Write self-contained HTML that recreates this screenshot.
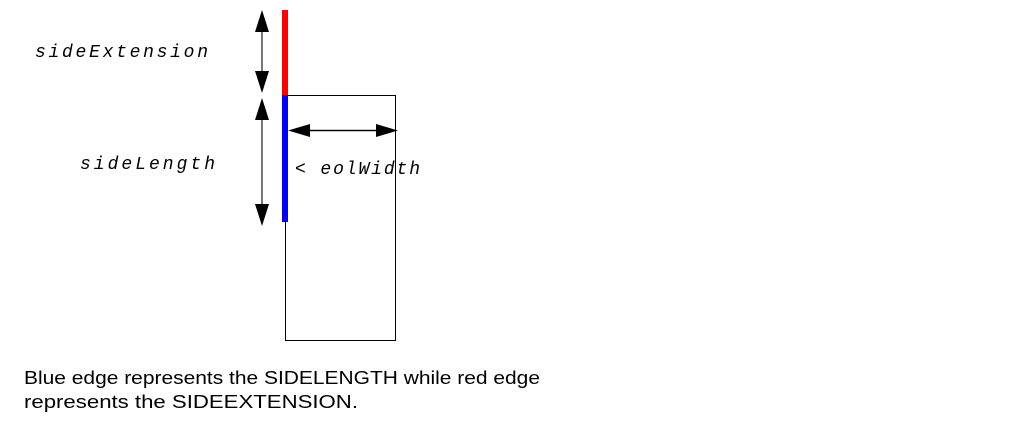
<!DOCTYPE html>
<html><head><style>
html,body{margin:0;padding:0;background:#fff;width:1013px;height:440px;overflow:hidden}
.m{font-family:"Liberation Mono",monospace;font-style:italic;font-size:18px;fill:#000}
.c{font-family:"Liberation Sans",sans-serif;font-size:18px;fill:#000}
</style></head><body>
<svg width="1013" height="440" xmlns="http://www.w3.org/2000/svg">
<rect x="285.5" y="95.5" width="110" height="245" fill="none" stroke="#000" stroke-width="1"/>
<line x1="285" y1="10" x2="285" y2="95" stroke="#f00" stroke-width="6"/>
<line x1="285" y1="95" x2="285" y2="222" stroke="#00f" stroke-width="6"/>
<line x1="262" y1="20" x2="262" y2="85" stroke="#777" stroke-width="2"/>
<polygon points="262,10 255,32 269,32" fill="#000"/>
<polygon points="262,93 255,71 269,71" fill="#000"/>
<line x1="262" y1="108" x2="262" y2="215" stroke="#777" stroke-width="2"/>
<polygon points="262,98 255,120 269,120" fill="#000"/>
<polygon points="262,226 255,204 269,204" fill="#000"/>
<line x1="295" y1="130.5" x2="390" y2="130.5" stroke="#000" stroke-width="1.5"/>
<polygon points="288,130.5 310,124 310,137" fill="#000"/>
<polygon points="398,130.5 376,124 376,137" fill="#000"/>
<text class="m" x="35" y="57" textLength="173" lengthAdjust="spacing">sideExtension</text>
<text class="m" x="80" y="169" textLength="135" lengthAdjust="spacing">sideLength</text>
<text class="m" x="295" y="174" textLength="125" lengthAdjust="spacing">&lt; eolWidth</text>
<text class="c" x="24" y="384" textLength="516" lengthAdjust="spacingAndGlyphs">Blue edge represents the SIDELENGTH while red edge</text>
<text class="c" x="24" y="408" textLength="334" lengthAdjust="spacingAndGlyphs">represents the SIDEEXTENSION.</text>
</svg>
</body></html>
